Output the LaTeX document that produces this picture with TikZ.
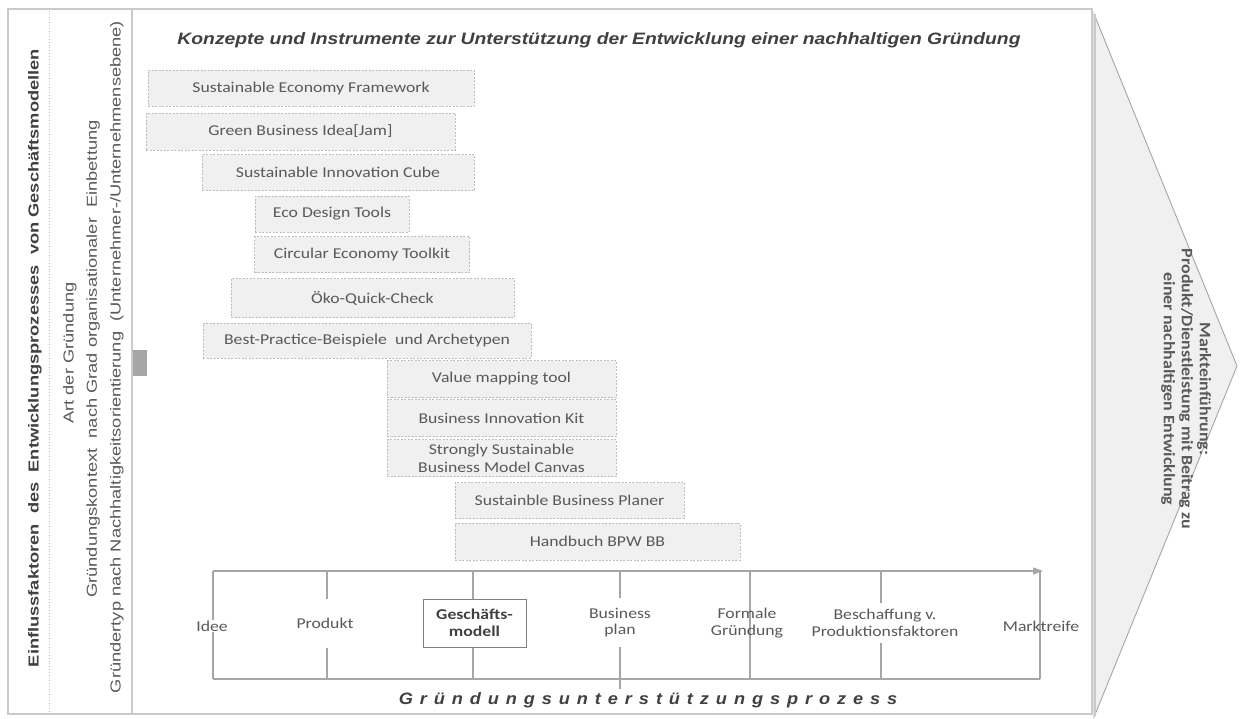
\documentclass[tikz,border=0pt]{standalone}
\usepackage{fontspec}
\setmainfont{Carlito}
\newfontfamily\boxfont{Carlito}[FakeStretch=1.18]
\newfontfamily\chevfont{Carlito}[FakeStretch=1.12]
\newfontfamily\sidefont{Liberation Sans}[FakeStretch=1.26]
\newfontfamily\titlefont{Liberation Sans}[FakeStretch=1.17]
\newfontfamily\spacedfont{Liberation Sans}[FakeStretch=1.1, LetterSpace=42]
\usetikzlibrary{arrows.meta}

\definecolor{framegray}{HTML}{CACACA}
\definecolor{boxfill}{HTML}{F0F0F0}
\definecolor{boxline}{HTML}{BDBDBD}
\definecolor{txtgray}{HTML}{595959}
\definecolor{darktxt}{HTML}{404040}
\definecolor{linegray}{HTML}{A6A6A6}

\tikzset{
  toolbox/.style={draw=boxline, dashed, dash pattern=on 2pt off 1.5pt, fill=boxfill,
    text=txtgray, font=\boxfont\fontsize{15}{18}\selectfont, align=center, inner sep=0pt},
  proclabel/.style={text=txtgray, font=\boxfont\fontsize{15}{16.5}\selectfont, align=center, inner sep=1pt},
  ticklabel/.style={proclabel, fill=white},
  tickline/.style={draw=linegray, line width=1.3pt},
  sidetext/.style={rotate=90, text=txtgray, font=\sidefont\fontsize{14.5}{16}\selectfont, inner sep=0pt},
}

\begin{document}
\begin{tikzpicture}[x=1pt, y=-1pt]
\useasboundingbox (0,0) rectangle (1243,718);

% left panel with the influence factors
\draw[framegray, line width=1.6pt] (8,9) rectangle (132,714);
\draw[boxline, dotted, line width=0.8pt] (49,11) -- (49,712);
\node[sidetext, text=darktxt, font=\sidefont\bfseries\fontsize{14.5}{16}\selectfont] (infl) at (35,358)
  {Einflussfaktoren\ \ des\ \ Entwicklungsprozesses\ \ von Geschäftsmodellen};
\node[sidetext] (art) at (70,353) {Art der Gründung};
\node[sidetext] (ktx) at (93,359) {Gründungskontext\ \ nach Grad organisationaler\ \ Einbettung};
\node[sidetext] (typ) at (117,357) {Gründertyp nach Nachhaltigkeitsorientierung\ \ (Unternehmer-/Unternehmensebene)};

% final stage: market entry chevron
\draw[linegray, line width=0.9pt, fill=boxfill] (1094,14) -- (1237,366) -- (1094,717) -- cycle;
\draw[framegray, line width=2.5pt] (1095,14) -- (1095,716);
\node[rotate=-90, align=center, text=txtgray, font=\chevfont\bfseries\fontsize{16}{18}\selectfont] (market) at (1186,389)
  {Markteinführung:\\Produkt/Dienstleistung mit Beitrag zu\\einer nachhaltigen Entwicklung};

% main panel
\draw[framegray, line width=2pt, fill=white] (132,9) rectangle (1092,714);
\fill[linegray] (133,350) rectangle (147,376);

\node[text=darktxt, font=\titlefont\bfseries\itshape\fontsize{16.5}{18}\selectfont] (title) at (599,40)
  {Konzepte und Instrumente zur Unterstützung der Entwicklung einer nachhaltigen Gründung};

% concepts and instruments
\node[toolbox, minimum width=326, minimum height=36] (sef) at (311,88) {Sustainable Economy Framework};
\node[toolbox, minimum width=309, minimum height=37] (gbi) at (300.5,131.5) {Green Business Idea[Jam]};
\node[toolbox, minimum width=272, minimum height=36] (sic) at (338,172.5) {Sustainable Innovation Cube};
\node[toolbox, minimum width=154, minimum height=36] (edt) at (332,214) {Eco Design Tools};
\node[toolbox, minimum width=215, minimum height=36] (cet) at (362,254.5) {Circular Economy Toolkit};
\node[toolbox, minimum width=283, minimum height=39] (oqc) at (372.5,298) {Öko-Quick-Check};
\node[toolbox, minimum width=328, minimum height=35] (bpb) at (367,340.5) {Best-Practice-Beispiele\ \ und Archetypen};
\node[toolbox, minimum width=229, minimum height=37] (vmt) at (501.5,379) {Value mapping tool};
\node[toolbox, minimum width=229, minimum height=37] (bik) at (501.5,418) {Business Innovation Kit};
\node[toolbox, minimum width=229, minimum height=37] (ssb) at (501.5,458) {Strongly Sustainable\\Business Model Canvas};
\node[toolbox, minimum width=229, minimum height=36] (sbp) at (569.5,500.5) {Sustainble Business Planer};
\node[toolbox, minimum width=285, minimum height=37] (hbb) at (597.5,541.5) {Handbuch BPW BB};

% founding support process
\coordinate (axL) at (213,571);
\coordinate (axR) at (1043,571);
\coordinate (bL) at (213,679);
\coordinate (bR) at (1040,679);
\foreach \n/\x in {1/213,2/327,3/473,4/620,5/750,6/881,7/1040}{
  \coordinate (t\n) at (\x,571);
  \coordinate (u\n) at (\x,679);
}
\coordinate (u4x) at (620,689);
\draw[tickline] (bL) -- (bR);
\draw[tickline, -{Triangle[length=10pt, width=7pt]}] (axL) -- (axR);
\foreach \n in {1,...,7}{ \draw[tickline] (t\n) -- (u\n); }
\draw[tickline] (u4) -- (u4x);

\node[ticklabel] (idee) at (212,626) {Idee};
\node[ticklabel, minimum height=49] (prod) at (325,623.5) {Produkt};
\node[draw=gray, line width=1pt, fill=white, text=darktxt, font=\boxfont\bfseries\fontsize{15}{17}\selectfont,
  align=center, minimum width=103, minimum height=48, inner sep=0pt] (gm) at (474.5,623) {Geschäfts-\\modell};
\node[ticklabel, minimum height=49] (bp) at (620,622.5) {Business\\plan};
\node[proclabel] (fg) at (747,623) {Formale\\Gründung};
\node[ticklabel, minimum height=40] (bsf) at (885,623) {Beschaffung v.\\Produktionsfaktoren};
\node[proclabel] (mr) at (1041,626) {Marktreife};

\node[text=darktxt, font=\spacedfont\bfseries\itshape\fontsize{16.5}{18}\selectfont] (proc) at (648,700)
  {Gründungsunterstützungsprozess};
\end{tikzpicture}
\end{document}
